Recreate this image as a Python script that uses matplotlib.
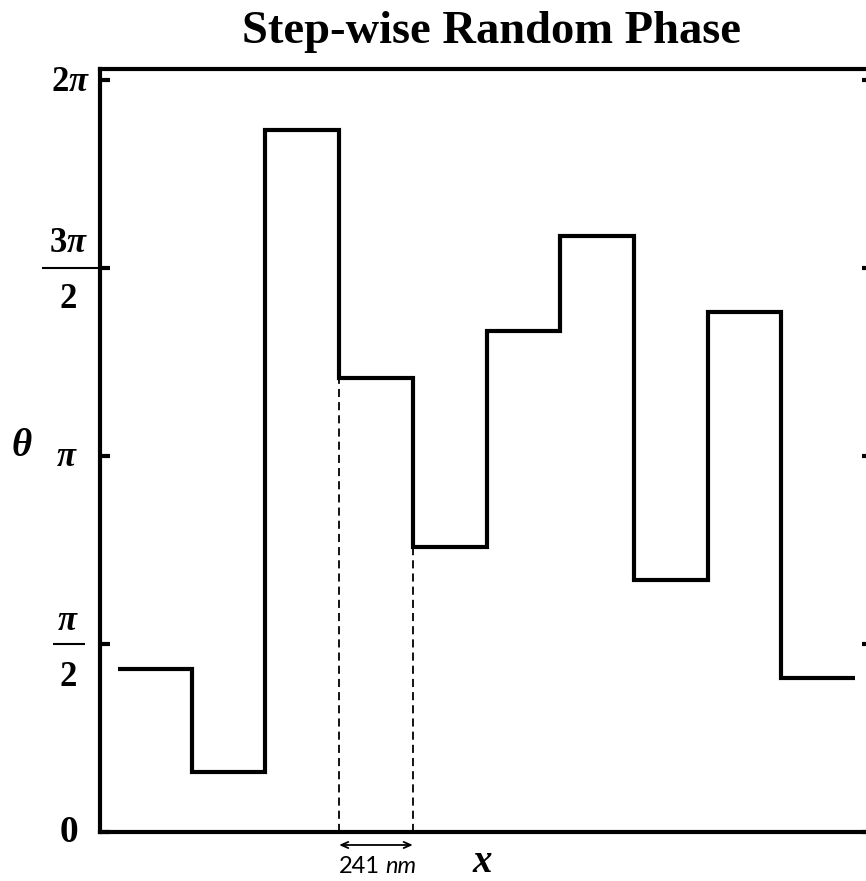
import numpy as np
import matplotlib
matplotlib.use("Agg")
import matplotlib.pyplot as plt
from matplotlib.transforms import blended_transform_factory

# math text in bold Times-like serif
plt.rcParams['mathtext.fontset'] = 'custom'
plt.rcParams['mathtext.rm'] = 'Liberation Serif:bold'
plt.rcParams['mathtext.bf'] = 'Liberation Serif:bold'
plt.rcParams['mathtext.it'] = 'Liberation Serif:italic:bold'

# phase of each step, in units of pi
phase_over_pi = [0.434, 0.160, 1.867, 1.207, 0.758, 1.332, 1.585, 0.670, 1.383, 0.410]
step_nm = 241
n_steps = len(phase_over_pi)
edges = np.arange(n_steps + 1) * step_nm
phase = np.array(phase_over_pi) * np.pi

yticks = [0, np.pi / 2, np.pi, 3 * np.pi / 2, 2 * np.pi]

fig = plt.figure(figsize=(8.66, 8.81), dpi=100)
ax = fig.add_axes([0.1155, 0.0556, 0.8914, 0.8661])

ax.stairs(phase, edges, baseline=None, color='black', lw=3.0)

# dashed guides marking one step width
dash = (0, (4.5, 2.8))
ax.plot([edges[3], edges[3]], [0, phase[3]], color='black', lw=1.3, linestyle=dash)
ax.plot([edges[4], edges[4]], [0, phase[3]], color='black', lw=1.3, linestyle=dash)

ax.set_xlim(-0.244 * step_nm, 10.23 * step_nm)
ax.set_ylim(0, 2.029 * np.pi)

for s in ax.spines.values():
    s.set_linewidth(3.0)
ax.set_xticks([])
ax.set_yticks(yticks)
ax.set_yticklabels([])
ax.tick_params(axis='y', direction='in', length=7, width=3, left=True, right=True)

# y tick labels
lab = dict(xycoords=('axes fraction', 'data'), textcoords='offset points',
           fontsize=25, annotation_clip=False)
ax.annotate(r'$0$', xy=(0, 0), xytext=(-16, 0), ha='right', va='center',
            **{**lab, 'fontsize': 27})
ax.annotate(r'$\pi$', xy=(0, np.pi), xytext=(-16, 0), ha='right', va='center', **lab)
ax.annotate(r'$2\pi$', xy=(0, 2 * np.pi), xytext=(-7, -1), ha='right', va='center', **lab)
ax.annotate(r'$3\pi$', xy=(0, 1.5 * np.pi), xytext=(-23, 19), ha='center', va='center', **lab)
ax.annotate(r'$2$', xy=(0, 1.5 * np.pi), xytext=(-23, -22), ha='center', va='center', **lab)
ax.annotate(r'$\pi$', xy=(0, 0.5 * np.pi), xytext=(-23, 17), ha='center', va='center', **lab)
ax.annotate(r'$2$', xy=(0, 0.5 * np.pi), xytext=(-23, -23), ha='center', va='center', **lab)

# fraction bars
bt = blended_transform_factory(ax.transAxes, ax.transData)
ax.plot([-0.0751, 0.0], [1.5 * np.pi] * 2, color='black', lw=1.5,
        transform=bt, clip_on=False, solid_capstyle='butt')
ax.plot([-0.0609, -0.0194], [0.5 * np.pi] * 2, color='black', lw=1.5,
        transform=bt, clip_on=False, solid_capstyle='butt')

# axis names
ax.annotate(r'$\theta$', xy=(0, np.pi), xytext=(-56, 8), ha='center', va='center',
            xycoords=('axes fraction', 'data'), textcoords='offset points',
            fontsize=28, annotation_clip=False)
ax.annotate(r'$x$', xy=(0.4948, 0), xytext=(0, -29), ha='center', va='baseline',
            xycoords='axes fraction', textcoords='offset points',
            fontsize=28, annotation_clip=False)

# step width arrow and label
ax.annotate('', xy=(edges[3], -0.017), xytext=(edges[4], -0.017),
            xycoords=('data', 'axes fraction'),
            arrowprops=dict(arrowstyle='<->,head_length=0.5,head_width=0.22',
                            color='black', lw=1.3, shrinkA=0, shrinkB=0),
            annotation_clip=False)
mid = (edges[3] + edges[4]) / 2
ax.annotate(f'{step_nm}', xy=(mid, 0), xytext=(3, -24.5), ha='right', va='center',
            xycoords=('data', 'axes fraction'), textcoords='offset points',
            fontsize=17, family='Lato', annotation_clip=False)
ax.annotate('nm', xy=(mid, 0), xytext=(6.5, -24.5), ha='left', va='center',
            xycoords=('data', 'axes fraction'), textcoords='offset points',
            fontsize=17, family='Lato', style='italic', annotation_clip=False)

fig.text(491 / 866, 1 - 43 / 881, 'Step-wise Random Phase', ha='center', va='baseline',
         family='Liberation Serif', weight='bold', fontsize=33.5)

fig.savefig('out.png', dpi=100)
